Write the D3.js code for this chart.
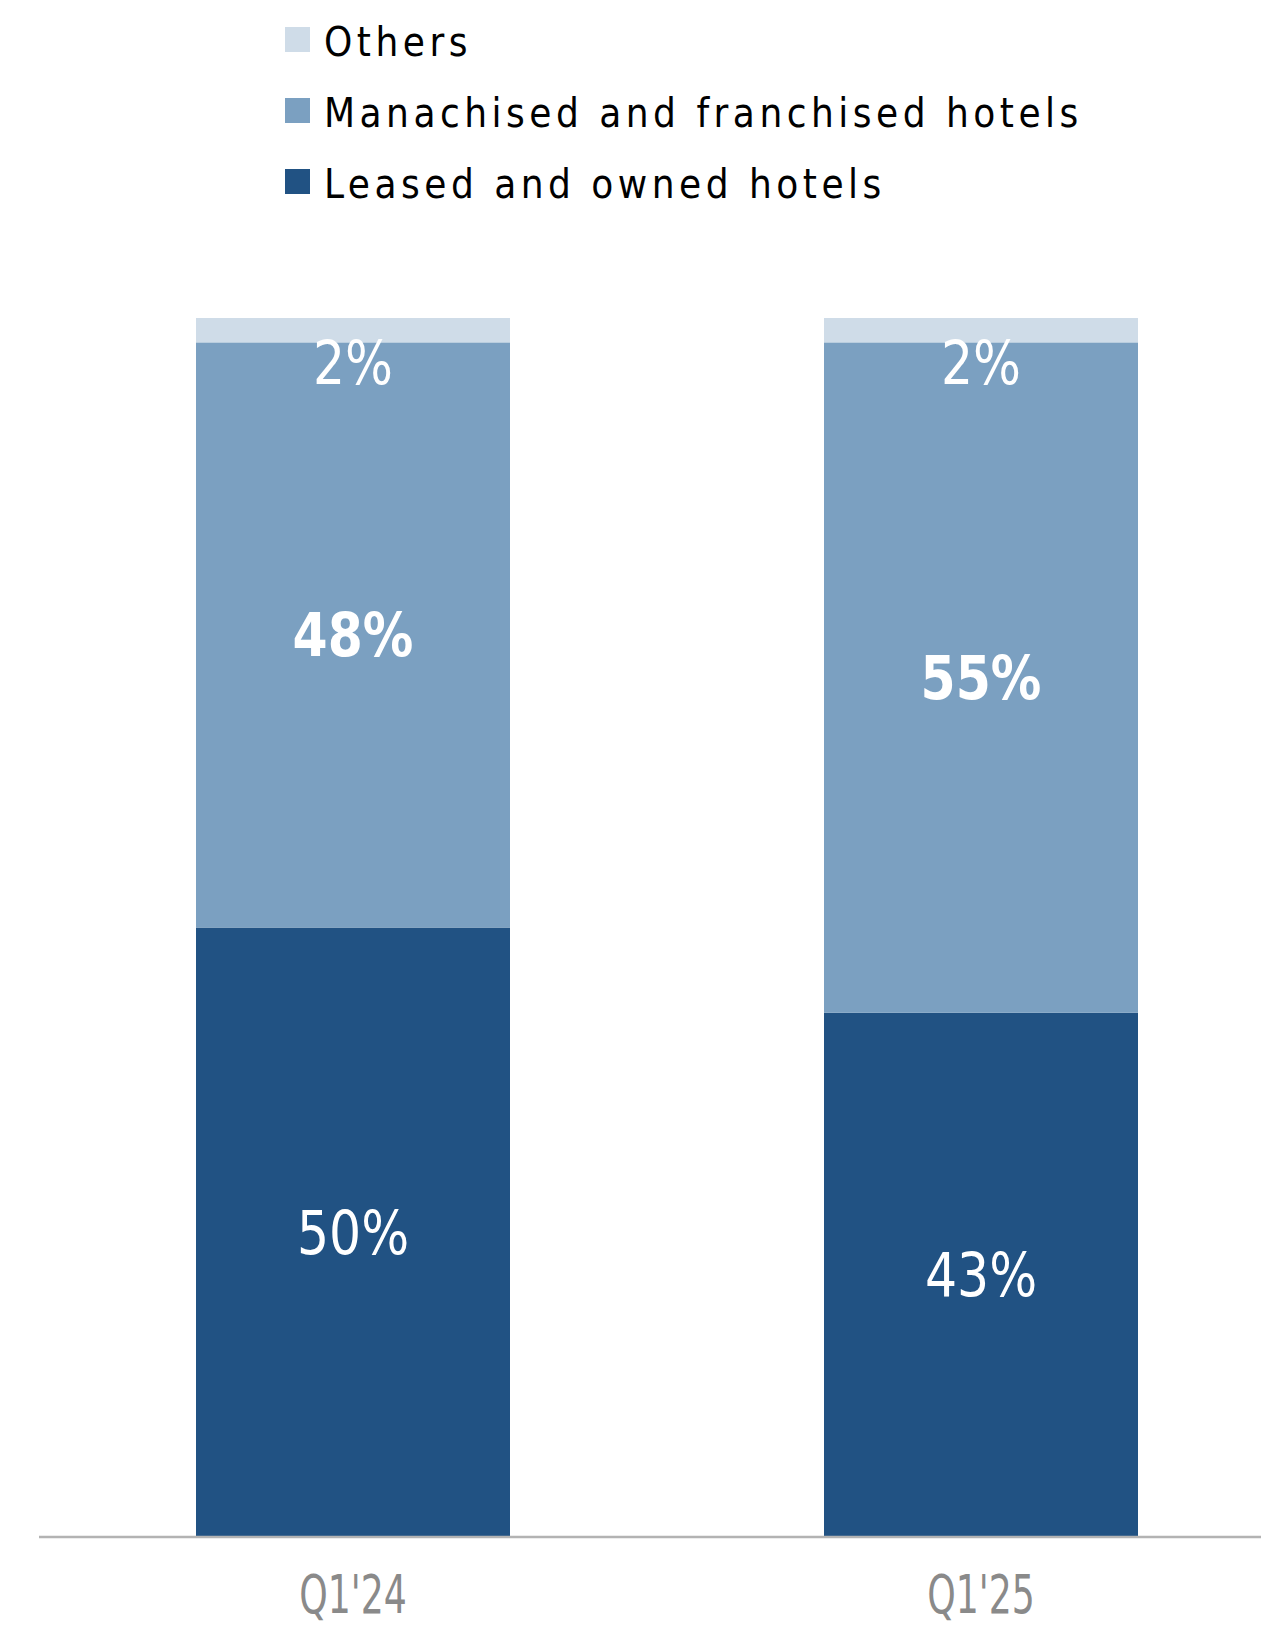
<!DOCTYPE html>
<html>
<head>
<meta charset="utf-8">
<script src="https://cdn.jsdelivr.net/npm/d3@7"></script>
<style>
  body { margin: 0; background: #fff; }
  svg { display: block; }
  text { font-family: "DejaVu Sans Condensed", "Liberation Sans", sans-serif; }
</style>
</head>
<body>
<svg id="chart"></svg>
<script>

var quarters = ["Q1'24", "Q1'25"];
var seriesNames = ["Leased and owned hotels", "Manachised and franchised hotels", "Others"];
var leased = [50, 43];
var manachised = [48, 55];
var others = [2, 2];
var colours = ["#215283", "#7ba0c1", "#cfdce8"];
var boldLabel = [false, true, false];

var width = 1261, height = 1625;

var svg = d3.select("#chart")
    .attr("width", width)
    .attr("height", height);

// band range runs past the right edge, the original chart is cropped there
var x = d3.scaleBand()
    .domain(quarters)
    .range([39, 1295])
    .paddingInner(0.5)
    .paddingOuter(0.25);

var y = d3.scaleLinear()
    .domain([0, 100])
    .range([1537, 318]);

var table = quarters.map(function(q, i) {
  return { quarter: q, s0: leased[i], s1: manachised[i], s2: others[i] };
});

var stack = d3.stack().keys(["s0", "s1", "s2"]);
var layers = stack(table);

var layer = svg.selectAll(".layer")
    .data(layers)
  .enter().append("g")
    .attr("class", "layer")
    .attr("fill", function(d, i) { return colours[i]; });

layer.selectAll("rect")
    .data(function(d) { return d; })
  .enter().append("rect")
    .attr("x", function(d) { return x(d.data.quarter); })
    .attr("width", x.bandwidth())
    .attr("y", function(d) { return y(d[1]); })
    .attr("height", function(d) { return y(d[0]) - y(d[1]); });

// value labels (squeezed a bit to look like the condensed original face)
layers.forEach(function(l, li) {
  svg.append("g").selectAll("text")
      .data(l)
    .enter().append("text")
      .attr("transform", function(d) {
        var h = y(d[0]) - y(d[1]);
        var cy = h < 40 ? y(d[0]) + 20 : (y(d[0]) + y(d[1])) / 2;
        var cx = x(d.data.quarter) + x.bandwidth() / 2;
        return "translate(" + cx + "," + cy + ") scale(0.92,1)";
      })
      .attr("dy", "0.35em")
      .attr("text-anchor", "middle")
      .attr("fill", "#fff")
      .attr("font-size", 61)
      .attr("font-weight", boldLabel[li] ? "bold" : "normal")
      .text(function(d) { return (d[1] - d[0]) + "%"; });
});

// baseline + category labels
var axis = svg.append("g")
    .attr("transform", "translate(0," + y(0) + ")")
    .call(d3.axisBottom(x).tickSize(0).tickPadding(38));

axis.select(".domain")
    .attr("d", "M39,0H" + width)
    .attr("stroke", "#b3b3b3")
    .attr("stroke-width", 2.5);

axis.selectAll("text")
    .attr("font-family", "'DejaVu Sans Condensed', sans-serif")
    .attr("font-size", 53)
    .attr("transform", "scale(0.76,1)")
    .attr("fill", "#8a8a8a");

// legend, top-down: Others, Manachised, Leased
var legendOrder = [2, 1, 0];
var legend = svg.append("g").selectAll("g")
    .data(legendOrder)
  .enter().append("g")
    .attr("transform", function(d, i) { return "translate(285," + (27 + i * 71) + ")"; });

legend.append("rect")
    .attr("width", 25)
    .attr("height", 25)
    .attr("fill", function(d) { return colours[d]; });

legend.append("text")
    .attr("x", 39)
    .attr("y", 29)
    .attr("font-size", 40)
    .attr("letter-spacing", 4.5)
    .attr("fill", "#000")
    .text(function(d) { return seriesNames[d]; });

</script>
</body>
</html>
